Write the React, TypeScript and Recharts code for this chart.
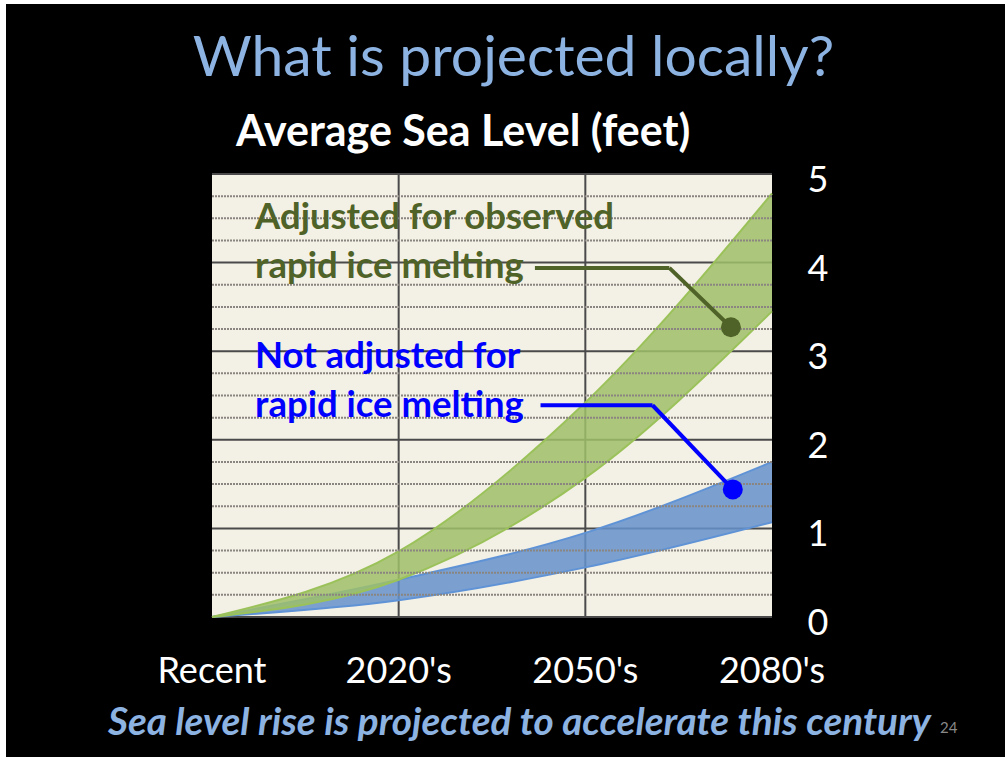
import React from "react";
import {
  ComposedChart,
  Area,
  XAxis,
  YAxis,
  CartesianGrid,
  ReferenceLine,
  ReferenceDot,
} from "recharts";

// projected sea level rise, feet (low / high edge of each band)
const periods = ["Recent", "2020's", "2050's", "2080's"];
const adjustedLow = [0, 0.42, 1.57, 3.45];
const adjustedHigh = [0, 0.74, 2.42, 4.78];
const notAdjustedLow = [0, 0.19, 0.56, 1.07];
const notAdjustedHigh = [0, 0.42, 0.95, 1.75];

const feetTicks = [0, 1, 2, 3, 4, 5];
const quarterTicks = [
  0.25, 0.5, 0.75, 1.25, 1.5, 1.75, 2.25, 2.5, 2.75, 3.25, 3.5, 3.75, 4.25,
  4.5, 4.75,
];

// callout leaders, in chart units
const adjustedLeader = [
  { x: 1.73, y: 3.94 },
  { x: 2.45, y: 3.94 },
  { x: 2.78, y: 3.27 },
];
const notAdjustedLeader = [
  { x: 1.76, y: 2.39 },
  { x: 2.36, y: 2.39 },
  { x: 2.79, y: 1.44 },
];

const FONT = "Lato, 'Open Sans', sans-serif";
const OLIVE = "#4f6228";
const BLUE = "#0000ff";
const LIGHT_BLUE = "#8db3e2";

const data = periods.map((p, i) => ({
  x: i,
  period: p,
  adjusted: [adjustedLow[i], adjustedHigh[i]],
  notAdjusted: [notAdjustedLow[i], notAdjustedHigh[i]],
}));

function XTick(props: any) {
  const { x, y, payload } = props;
  return (
    <text
      x={x}
      y={y + 58}
      textAnchor="middle"
      fill="#fff"
      fontSize={36}
      fontFamily={FONT}
    >
      {periods[payload.value]}
    </text>
  );
}

function YTick(props: any) {
  const { x, y, payload } = props;
  return (
    <text
      x={x + 38}
      y={y + 18}
      textAnchor="middle"
      fill="#fff"
      fontSize={36}
      fontFamily={FONT}
    >
      {payload.value}
    </text>
  );
}

export default function App() {
  const label = (text: string, color: string, left: number, top: number) => (
    <div
      style={{
        position: "absolute",
        left,
        top,
        color,
        fontFamily: FONT,
        fontWeight: 700,
        fontSize: 36.5,
        lineHeight: "49px",
        whiteSpace: "pre",
      }}
    >
      {text}
    </div>
  );

  return (
    <div
      style={{
        position: "absolute",
        left: 0,
        top: 0,
        width: 1005,
        height: 757,
        background: "#fff",
        overflow: "hidden",
      }}
    >
      <div
        style={{
          position: "absolute",
          left: 6,
          top: 4,
          right: 0,
          bottom: 0,
          background: "#000",
        }}
      />
      <div
        style={{
          position: "absolute",
          left: 0,
          width: 1027,
          top: 24,
          textAlign: "center",
          color: LIGHT_BLUE,
          fontFamily: FONT,
          fontSize: 57,
          lineHeight: "60px",
        }}
      >
        What is projected locally?
      </div>
      <div
        style={{
          position: "absolute",
          left: 236,
          top: 106,
          color: "#fff",
          fontFamily: FONT,
          fontWeight: 700,
          fontSize: 43,
          lineHeight: "48px",
          whiteSpace: "nowrap",
        }}
      >
        Average Sea Level (feet)
      </div>

      <div style={{ position: "absolute", left: 0, top: 0 }}>
        <ComposedChart
          width={1005}
          height={757}
          data={data}
          margin={{ top: 174, right: 173, left: 212, bottom: 100 }}
        >
          <CartesianGrid
            fill="#f3f0e5"
            stroke="#4a4a4a"
            strokeWidth={2}
            horizontalValues={feetTicks}
            verticalValues={[1, 2]}
          />
          <XAxis
            dataKey="x"
            type="number"
            domain={[0, 3]}
            ticks={[0, 1, 2, 3]}
            axisLine={false}
            tickLine={false}
            height={40}
            tick={<XTick />}
          />
          <YAxis
            orientation="right"
            type="number"
            domain={[0, 5]}
            ticks={feetTicks}
            axisLine={false}
            tickLine={false}
            width={60}
            tick={<YTick />}
          />
          {quarterTicks.map((v) => (
            <ReferenceLine
              key={v}
              y={v}
              stroke="#8a8580"
              strokeWidth={2}
              strokeDasharray="2 1"
            />
          ))}
          <Area
            type="monotone"
            dataKey="notAdjusted"
            fill="#6592cd"
            fillOpacity={0.85}
            stroke="#5f93d6"
            strokeWidth={2}
            isAnimationActive={false}
          />
          <Area
            type="monotone"
            dataKey="adjusted"
            fill="#9fbf6a"
            fillOpacity={0.85}
            stroke="#9bc25a"
            strokeWidth={2}
            isAnimationActive={false}
          />
          <ReferenceLine
            segment={[adjustedLeader[0], adjustedLeader[1]]}
            stroke={OLIVE}
            strokeWidth={4}
            ifOverflow="visible"
          />
          <ReferenceLine
            segment={[adjustedLeader[1], adjustedLeader[2]]}
            stroke={OLIVE}
            strokeWidth={4}
            ifOverflow="visible"
          />
          <ReferenceDot
            x={adjustedLeader[2].x}
            y={adjustedLeader[2].y}
            r={10}
            fill={OLIVE}
            stroke="none"
          />
          <ReferenceLine
            segment={[notAdjustedLeader[0], notAdjustedLeader[1]]}
            stroke={BLUE}
            strokeWidth={4}
            ifOverflow="visible"
          />
          <ReferenceLine
            segment={[notAdjustedLeader[1], notAdjustedLeader[2]]}
            stroke={BLUE}
            strokeWidth={4}
            ifOverflow="visible"
          />
          <ReferenceDot
            x={notAdjustedLeader[2].x}
            y={notAdjustedLeader[2].y}
            r={10}
            fill={BLUE}
            stroke="none"
          />
        </ComposedChart>
      </div>

      {label("Adjusted for observed\nrapid ice melting", OLIVE, 255, 191)}
      {label("Not adjusted for\nrapid ice melting", BLUE, 255, 330)}

      <div
        style={{
          position: "absolute",
          left: 108,
          top: 700,
          color: LIGHT_BLUE,
          fontFamily: FONT,
          fontWeight: 700,
          fontStyle: "italic",
          fontSize: 38.7,
          lineHeight: "40px",
          whiteSpace: "nowrap",
        }}
      >
        Sea level rise is projected to accelerate this century
      </div>
      <div
        style={{
          position: "absolute",
          left: 940,
          top: 718,
          color: "#888",
          fontFamily: FONT,
          fontSize: 15,
        }}
      >
        24
      </div>
    </div>
  );
}
